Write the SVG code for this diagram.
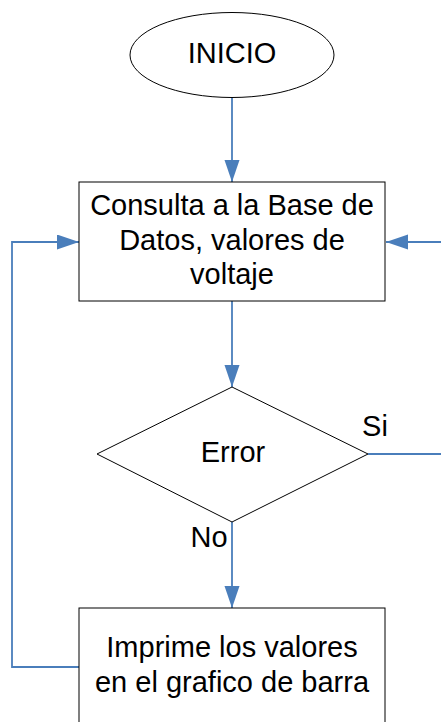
<svg xmlns="http://www.w3.org/2000/svg" width="441" height="722" viewBox="0 0 441 722">
<style>
.shape{fill:#fff;stroke:#000;stroke-width:1}
.t{font-family:"Liberation Sans",Arial,sans-serif;font-size:29px;fill:#000;text-anchor:middle}
.c{fill:none;stroke:#4A7EBB;stroke-width:1.8}
</style>
<defs>
<marker id="ah" markerUnits="userSpaceOnUse" markerWidth="24" markerHeight="16" refX="22" refY="7.5" orient="auto">
<path d="M0,0 L22,7.5 L0,15 Z" fill="#4A7EBB"/>
</marker>
</defs>
<rect width="441" height="722" fill="#fff"/>
<g id="connectors">
<line class="c" x1="232" y1="97" x2="232" y2="182" marker-end="url(#ah)"/>
<line class="c" x1="232" y1="301" x2="232" y2="387" marker-end="url(#ah)"/>
<line class="c" x1="232" y1="522" x2="232" y2="608" marker-end="url(#ah)"/>
<polyline class="c" points="79,667 12,667 12,242 79,242" marker-end="url(#ah)"/>
<polyline class="c" points="368,454 441,454"/>
<line class="c" x1="441" y1="242" x2="386" y2="242" marker-end="url(#ah)"/>
<text class="t" x="375" y="436">Si</text>
<text class="t" x="209" y="547">No</text>
</g>
<g id="inicio">
<ellipse class="shape" cx="232" cy="55" rx="102" ry="42.5"/>
<text class="t" x="232" y="63">INICIO</text>
</g>
<g id="consulta">
<rect class="shape" x="79" y="182" width="306" height="119"/>
<text class="t" x="232" y="215">Consulta a la Base de</text>
<text class="t" x="232" y="250">Datos, valores de</text>
<text class="t" x="232" y="284">voltaje</text>
</g>
<g id="error">
<polygon class="shape" points="232,387 368,454 232,522 97,454"/>
<text class="t" x="233" y="462">Error</text>
</g>
<g id="imprime">
<rect class="shape" x="79" y="608" width="306" height="130"/>
<text class="t" x="232" y="657">Imprime los valores</text>
<text class="t" x="232" y="692">en el grafico de barra</text>
</g>
</svg>
